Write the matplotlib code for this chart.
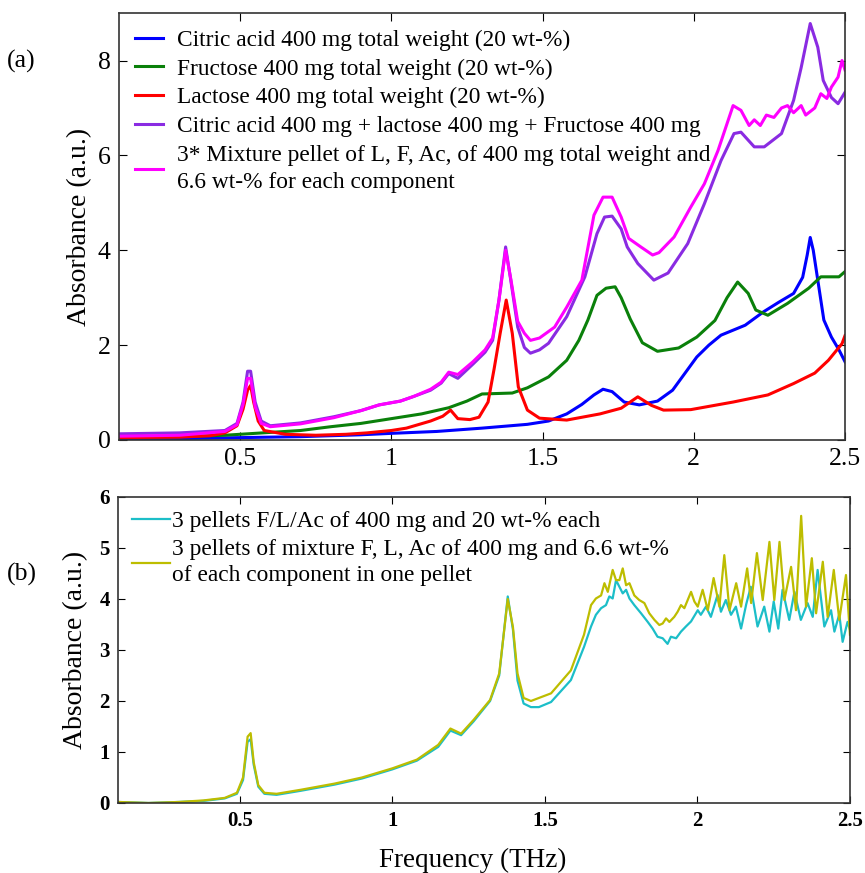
import numpy as np
import matplotlib
matplotlib.use('Agg')
import matplotlib.pyplot as plt

plt.rcParams['font.family'] = ['Liberation Serif', 'DejaVu Serif']

# panel (a): values (THz, a.u.)
f_citric = [0.10, 0.30, 0.50, 0.70, 0.90, 1.00, 1.15, 1.30, 1.45, 1.52, 1.58, 1.63, 1.67, 1.70, 1.73,
            1.77, 1.82, 1.88, 1.93, 1.97, 2.01, 2.05, 2.09, 2.17, 2.23, 2.28, 2.33, 2.36, 2.375, 2.385,
            2.395, 2.41, 2.43, 2.455, 2.48, 2.50]
a_citric = [0.02, 0.03, 0.05, 0.07, 0.11, 0.14, 0.18, 0.25, 0.33, 0.40, 0.55, 0.75, 0.95, 1.07, 1.02,
            0.80, 0.74, 0.82, 1.05, 1.40, 1.75, 2.00, 2.21, 2.42, 2.70, 2.90, 3.09, 3.43, 3.90, 4.27,
            4.00, 3.37, 2.53, 2.17, 1.90, 1.65]

f_fructose = [0.10, 0.30, 0.45, 0.55, 0.70, 0.80, 0.90, 1.00, 1.10, 1.19, 1.25, 1.30, 1.35, 1.40, 1.45,
              1.52, 1.58, 1.62, 1.65, 1.68, 1.71, 1.74, 1.76, 1.79, 1.83, 1.88, 1.95, 2.01, 2.07, 2.11,
              2.145, 2.18, 2.205, 2.245, 2.31, 2.38, 2.42, 2.48, 2.50]
a_fructose = [0.05, 0.07, 0.10, 0.14, 0.20, 0.28, 0.35, 0.45, 0.55, 0.68, 0.82, 0.97, 0.98, 0.99, 1.10,
              1.33, 1.68, 2.10, 2.53, 3.05, 3.20, 3.23, 3.00, 2.55, 2.05, 1.87, 1.94, 2.17, 2.52, 3.00,
              3.33, 3.09, 2.74, 2.63, 2.88, 3.20, 3.44, 3.44, 3.55]

f_lactose = [0.10, 0.30, 0.40, 0.45, 0.49, 0.51, 0.525, 0.535, 0.545, 0.56, 0.58, 0.65, 0.75, 0.85, 0.92,
             1.00, 1.05, 1.13, 1.17, 1.196, 1.22, 1.26, 1.29, 1.32, 1.34, 1.36, 1.38, 1.40, 1.42, 1.45,
             1.49, 1.58, 1.69, 1.76, 1.815, 1.86, 1.90, 1.99, 2.13, 2.245, 2.33, 2.40, 2.445, 2.49, 2.50]
a_lactose = [0.05, 0.06, 0.09, 0.15, 0.30, 0.65, 1.05, 1.15, 0.80, 0.40, 0.20, 0.12, 0.10, 0.12, 0.15,
             0.20, 0.25, 0.40, 0.50, 0.63, 0.45, 0.43, 0.48, 0.80, 1.50, 2.25, 2.95, 2.25, 1.12, 0.63,
             0.46, 0.42, 0.55, 0.67, 0.91, 0.73, 0.63, 0.64, 0.80, 0.95, 1.19, 1.41, 1.68, 2.03, 2.20]

f_sum = [0.10, 0.30, 0.45, 0.49, 0.51, 0.525, 0.535, 0.55, 0.57, 0.60, 0.70, 0.81, 0.90, 0.96, 1.03,
         1.075, 1.13, 1.165, 1.19, 1.22, 1.27, 1.31, 1.335, 1.356, 1.378, 1.395, 1.418, 1.44, 1.46, 1.49,
         1.52, 1.58, 1.64, 1.68, 1.705, 1.73, 1.76, 1.78, 1.815, 1.868, 1.915, 1.98, 2.035, 2.09, 2.133,
         2.156, 2.20, 2.233, 2.29, 2.33, 2.355, 2.385, 2.41, 2.428, 2.455, 2.477, 2.50]
a_sum = [0.13, 0.15, 0.20, 0.35, 0.80, 1.45, 1.45, 0.80, 0.40, 0.30, 0.36, 0.49, 0.62, 0.74, 0.82,
         0.92, 1.05, 1.20, 1.40, 1.30, 1.60, 1.85, 2.10, 2.95, 4.07, 3.37, 2.38, 1.95, 1.83, 1.90,
         2.04, 2.60, 3.44, 4.35, 4.70, 4.72, 4.45, 4.07, 3.72, 3.37, 3.52, 4.14, 4.98, 5.89, 6.46,
         6.49, 6.18, 6.18, 6.46, 7.16, 7.85, 8.78, 8.28, 7.58, 7.22, 7.09, 7.33]

f_mix3 = [0.10, 0.30, 0.45, 0.49, 0.51, 0.525, 0.535, 0.55, 0.57, 0.60, 0.70, 0.81, 0.90, 0.96, 1.03,
          1.075, 1.13, 1.165, 1.19, 1.22, 1.27, 1.31, 1.335, 1.356, 1.378, 1.395, 1.418, 1.44, 1.46, 1.49,
          1.54, 1.58, 1.63, 1.67, 1.70, 1.73, 1.76, 1.785, 1.825, 1.864, 1.885, 1.935, 1.99, 2.035, 2.08,
          2.13, 2.156, 2.183, 2.20, 2.22, 2.24, 2.265, 2.29, 2.31, 2.33, 2.355, 2.37, 2.40, 2.42, 2.44,
          2.455, 2.477, 2.49, 2.50]
a_mix3 = [0.08, 0.10, 0.18, 0.32, 0.75, 1.30, 1.30, 0.70, 0.35, 0.28, 0.34, 0.47, 0.62, 0.74, 0.82,
          0.92, 1.07, 1.22, 1.43, 1.38, 1.65, 1.90, 2.15, 2.95, 4.00, 3.40, 2.50, 2.25, 2.10, 2.15,
          2.38, 2.80, 3.37, 4.74, 5.12, 5.12, 4.70, 4.25, 4.07, 3.90, 3.95, 4.28, 4.91, 5.40, 6.10,
          7.05, 6.95, 6.63, 6.75, 6.63, 6.85, 6.80, 7.00, 7.05, 6.90, 7.05, 6.85, 7.00, 7.30, 7.20,
          7.44, 7.65, 8.00, 7.80]

# panel (b)
f_sep = [0.10, 0.20, 0.30, 0.38, 0.45, 0.49, 0.51, 0.525, 0.535, 0.545, 0.56, 0.58, 0.62, 0.70, 0.81,
         0.90, 1.00, 1.08, 1.15, 1.19, 1.225, 1.266, 1.32, 1.35, 1.378, 1.395, 1.41, 1.43, 1.454, 1.48,
         1.52, 1.585, 1.628, 1.651, 1.667, 1.684, 1.700, 1.711, 1.722, 1.733, 1.744, 1.755, 1.766, 1.777,
         1.793, 1.815, 1.837, 1.853, 1.869, 1.886, 1.902, 1.913, 1.930, 1.946, 1.962, 1.979, 2.001, 2.011,
         2.028, 2.044, 2.066, 2.077, 2.093, 2.110, 2.126, 2.143, 2.16, 2.175, 2.197, 2.219, 2.236, 2.25,
         2.265, 2.279, 2.301, 2.318, 2.339, 2.361, 2.378, 2.394, 2.416, 2.438, 2.449, 2.465, 2.476, 2.492,
         2.50]
a_sep = [0.02, 0.00, 0.02, 0.04, 0.09, 0.18, 0.45, 1.20, 1.25, 0.75, 0.32, 0.18, 0.16, 0.24, 0.36,
         0.48, 0.66, 0.83, 1.10, 1.42, 1.33, 1.60, 2.00, 2.50, 4.05, 3.40, 2.40, 1.95, 1.88, 1.88,
         1.98, 2.41, 3.06, 3.46, 3.69, 3.82, 3.88, 4.05, 4.01, 4.37, 4.24, 4.11, 4.18, 4.01,
         3.88, 3.72, 3.55, 3.42, 3.26, 3.23, 3.12, 3.26, 3.23, 3.36, 3.46, 3.56, 3.78, 3.69,
         3.85, 3.65, 4.08, 3.75, 3.98, 3.69, 3.85, 3.42, 3.90, 4.24, 3.46, 3.85, 3.36, 3.95,
         3.42, 4.18, 3.59, 4.14, 3.59, 3.92, 3.65, 4.57, 3.46, 3.78, 3.36, 3.70, 3.16, 3.55,
         3.40]

f_mixb = [0.10, 0.20, 0.30, 0.38, 0.45, 0.49, 0.51, 0.525, 0.535, 0.545, 0.56, 0.58, 0.62, 0.70, 0.81,
          0.90, 1.00, 1.08, 1.15, 1.19, 1.225, 1.266, 1.32, 1.35, 1.378, 1.395, 1.41, 1.43, 1.454, 1.52,
          1.585, 1.628, 1.651, 1.667, 1.684, 1.695, 1.706, 1.722, 1.733, 1.744, 1.755, 1.766, 1.777, 1.793,
          1.809, 1.826, 1.842, 1.859, 1.875, 1.886, 1.897, 1.908, 1.924, 1.935, 1.946, 1.957, 1.968, 1.979,
          1.990, 2.001, 2.017, 2.034, 2.053, 2.072, 2.088, 2.105, 2.127, 2.143, 2.163, 2.176, 2.195, 2.214,
          2.236, 2.252, 2.269, 2.285, 2.307, 2.323, 2.340, 2.356, 2.375, 2.389, 2.411, 2.427, 2.447, 2.465,
          2.487, 2.50]
a_mixb = [0.02, 0.00, 0.02, 0.05, 0.10, 0.20, 0.50, 1.30, 1.37, 0.80, 0.35, 0.20, 0.18, 0.26, 0.38,
          0.50, 0.68, 0.85, 1.14, 1.46, 1.36, 1.63, 2.02, 2.54, 4.00, 3.45, 2.54, 2.06, 2.00, 2.15,
          2.60, 3.30, 3.88, 4.01, 4.07, 4.31, 4.14, 4.57, 4.37, 4.37, 4.60, 4.27, 4.31, 4.07,
          3.98, 3.92, 3.72, 3.59, 3.49, 3.52, 3.62, 3.55, 3.65, 3.75, 3.88, 3.82, 3.98, 4.14,
          3.95, 3.85, 4.18, 3.78, 4.41, 3.85, 4.86, 3.78, 4.31, 3.85, 4.60, 3.92, 4.90, 3.98,
          5.12, 3.98, 5.12, 3.98, 4.63, 3.78, 5.63, 3.85, 4.80, 3.72, 4.73, 3.65, 4.57, 3.59,
          4.47, 3.30]

labels_a = ['Citric acid 400 mg total weight (20 wt-%)',
            'Fructose 400 mg total weight (20 wt-%)',
            'Lactose 400 mg total weight (20 wt-%)',
            'Citric acid 400 mg + lactose 400 mg + Fructose 400 mg',
            '3* Mixture pellet of L, F, Ac, of 400 mg total weight and\n6.6 wt-% for each component']
labels_b = ['3 pellets F/L/Ac of 400 mg and 20 wt-% each',
            '3 pellets of mixture F, L, Ac of 400 mg and 6.6 wt-%\nof each component in one pellet']

fig = plt.figure(figsize=(8.65, 8.73), dpi=100)

# (a)
ax1 = fig.add_axes([0.1376, 0.496, 0.8393, 0.489])
ax1.plot(f_citric, a_citric, color='#0000ff', lw=2.2, label=labels_a[0])
ax1.plot(f_fructose, a_fructose, color='#0a800a', lw=2.2, label=labels_a[1])
ax1.plot(f_lactose, a_lactose, color='#ff0000', lw=2.2, label=labels_a[2])
ax1.plot(f_sum, a_sum, color='#8a2be2', lw=2.2, label=labels_a[3])
ax1.plot(f_mix3, a_mix3, color='#ff00ff', lw=2.2, label=labels_a[4])
ax1.set_xlim(0.1, 2.5)
ax1.set_ylim(0, 9)
ax1.set_xticks([0.5, 1, 1.5, 2, 2.5])
ax1.set_xticklabels(['0.5', '1', '1.5', '2', '2.5'])
ax1.set_yticks([0, 2, 4, 6, 8])
ax1.tick_params(direction='in', top=True, right=True, length=6, labelsize=18.5, pad=6)
ax1.set_ylabel('Absorbance (a.u.)', fontsize=20, labelpad=4)
leg1 = ax1.legend(loc='upper left', bbox_to_anchor=(0.0, 1.0), frameon=False, fontsize=16.8,
                  handlelength=1.2, handletextpad=0.6, labelspacing=0.32, borderaxespad=0.3)
for t in leg1.get_texts():
    t.set_linespacing(1.4)
fig.text(0.008, 0.923, '(a)', fontsize=18.5)

# (b)
ax2 = fig.add_axes([0.1364, 0.0802, 0.8462, 0.3505])
ax2.plot(f_sep, a_sep, color='#1cbec8', lw=1.6, label=labels_b[0])
ax2.plot(f_mixb, a_mixb, color='#bdbd00', lw=1.6, label=labels_b[1])
ax2.set_xlim(0.1, 2.5)
ax2.set_ylim(0, 6)
ax2.set_xticks([0.5, 1, 1.5, 2, 2.5])
ax2.set_xticklabels(['0.5', '1', '1.5', '2', '2.5'])
ax2.set_yticks([0, 1, 2, 3, 4, 5, 6])
ax2.tick_params(direction='in', top=True, right=True, length=5, labelsize=15, pad=6)
for t in ax2.get_xticklabels() + ax2.get_yticklabels():
    t.set_fontweight('bold')
ax2.set_ylabel('Absorbance (a.u.)', fontsize=20, labelpad=8)
ax2.set_xlabel('Frequency (THz)', fontsize=19.5)
ax2.xaxis.set_label_coords(0.485, -0.148)
leg2 = ax2.legend(loc='upper left', bbox_to_anchor=(0.0, 1.0), frameon=False, fontsize=16.8,
                  handlelength=1.65, handletextpad=0.05, labelspacing=0.3, borderaxespad=0.2)
for t in leg2.get_texts():
    t.set_linespacing(1.3)
fig.text(0.008, 0.335, '(b)', fontsize=18.5)

for ax in (ax1, ax2):
    for s in ax.spines.values():
        s.set_color('#333333')
        s.set_linewidth(1.2)

fig.savefig('out.png', dpi=100)
